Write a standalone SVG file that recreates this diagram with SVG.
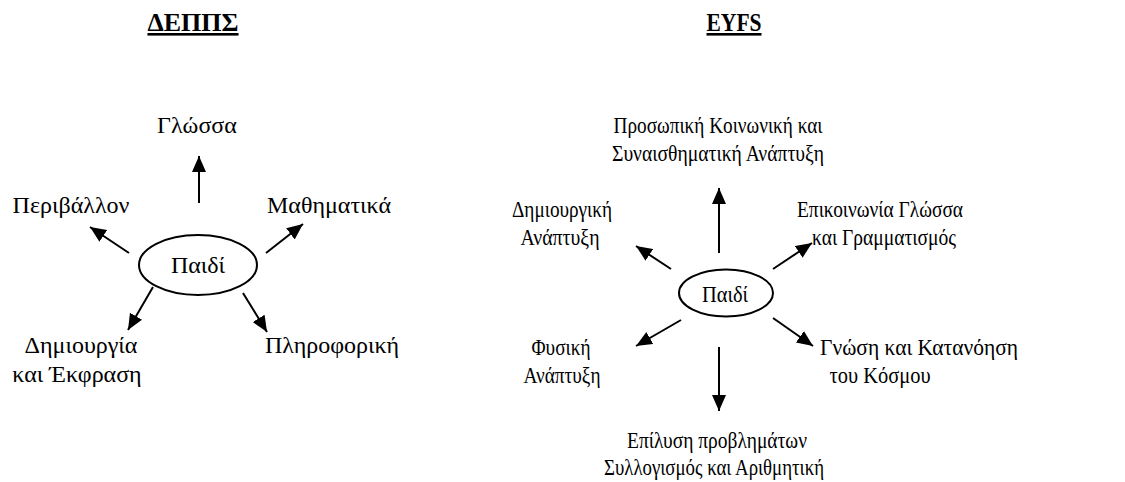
<svg xmlns="http://www.w3.org/2000/svg" width="1125" height="482" viewBox="0 0 1125 482">
<defs>
<style>
.txt text{font-size:24px;fill:#000}
.txt .t{font-weight:bold;font-size:26px;text-decoration:underline}
.m{text-anchor:middle}
.c line{stroke:#000;stroke-width:2;marker-end:url(#ah)}
ellipse{fill:#fff;stroke:#000;stroke-width:2}
</style>
<marker id="ah" markerUnits="userSpaceOnUse" markerWidth="17" markerHeight="15" refX="16" refY="7" orient="auto">
<path d="M0,0 L16,7 L0,14 z" fill="#000"/>
</marker>
</defs>
<rect width="1125" height="482" fill="#fff"/>
<g class="c" id="connectors">
<line x1="199" y1="203" x2="199" y2="156"/>
<line x1="129" y1="253" x2="90" y2="227"/>
<line x1="266" y1="253" x2="303" y2="224"/>
<line x1="153" y1="287" x2="128" y2="330"/>
<line x1="243" y1="293" x2="267" y2="332"/>
<line x1="719" y1="253" x2="719" y2="188"/>
<line x1="671" y1="269" x2="636" y2="246"/>
<line x1="773" y1="269" x2="812" y2="243"/>
<line x1="681" y1="320" x2="636" y2="346"/>
<line x1="773" y1="318" x2="813" y2="346"/>
<line x1="719" y1="347" x2="719" y2="411"/>
</g>
<g class="txt" font-family="'Liberation Serif', 'Times New Roman', 'DejaVu Serif', serif">
<text class="t m" x="193" y="31">ΔΕΠΠΣ</text>
<text class="t m" x="734" y="31" textLength="55" lengthAdjust="spacingAndGlyphs">EYFS</text>
<g id="child-left"><ellipse cx="198" cy="265" rx="59" ry="30"/><text class="m" x="198" y="273">Παιδί</text></g>
<g id="glossa"><text class="m" x="197" y="133">Γλώσσα</text></g>
<g id="perivallon"><text class="m" x="71" y="213">Περιβάλλον</text></g>
<g id="mathimatika"><text class="m" x="329" y="213">Μαθηματικά</text></g>
<g id="dimiourgia"><text class="m" x="81" y="353">Δημιουργία</text><text class="m" x="77" y="382">και Έκφραση</text></g>
<g id="pliroforiki"><text class="m" x="332" y="353">Πληροφορική</text></g>
<g id="child-right"><ellipse cx="726" cy="293" rx="47" ry="23.5"/><text class="m" x="725" y="302" textLength="46" lengthAdjust="spacingAndGlyphs">Παιδί</text></g>
<g id="prosopiki"><text class="m" x="718" y="133" textLength="209" lengthAdjust="spacingAndGlyphs">Προσωπική Κοινωνική και</text><text class="m" x="718" y="161" textLength="212" lengthAdjust="spacingAndGlyphs">Συναισθηματική Ανάπτυξη</text></g>
<g id="dimiourgiki"><text class="m" x="562" y="217" textLength="100" lengthAdjust="spacingAndGlyphs">Δημιουργική</text><text class="m" x="560" y="245" textLength="79" lengthAdjust="spacingAndGlyphs">Ανάπτυξη</text></g>
<g id="epikoinonia"><text class="m" x="880" y="217" textLength="166" lengthAdjust="spacingAndGlyphs">Επικοινωνία Γλώσσα</text><text class="m" x="884" y="245" textLength="144" lengthAdjust="spacingAndGlyphs">και Γραμματισμός</text></g>
<g id="fysiki"><text class="m" x="561" y="355" textLength="59" lengthAdjust="spacingAndGlyphs">Φυσική</text><text class="m" x="562" y="383" textLength="77" lengthAdjust="spacingAndGlyphs">Ανάπτυξη</text></g>
<g id="gnosi"><text x="820" y="355" textLength="198" lengthAdjust="spacingAndGlyphs">Γνώση και Κατανόηση</text><text class="m" x="880" y="383" textLength="101" lengthAdjust="spacingAndGlyphs">του Κόσμου</text></g>
<g id="epilysi"><text class="m" x="717" y="448" textLength="180" lengthAdjust="spacingAndGlyphs">Επίλυση προβλημάτων</text><text class="m" x="714" y="475" textLength="220" lengthAdjust="spacingAndGlyphs">Συλλογισμός και Αριθμητική</text></g>
</g>
</svg>
